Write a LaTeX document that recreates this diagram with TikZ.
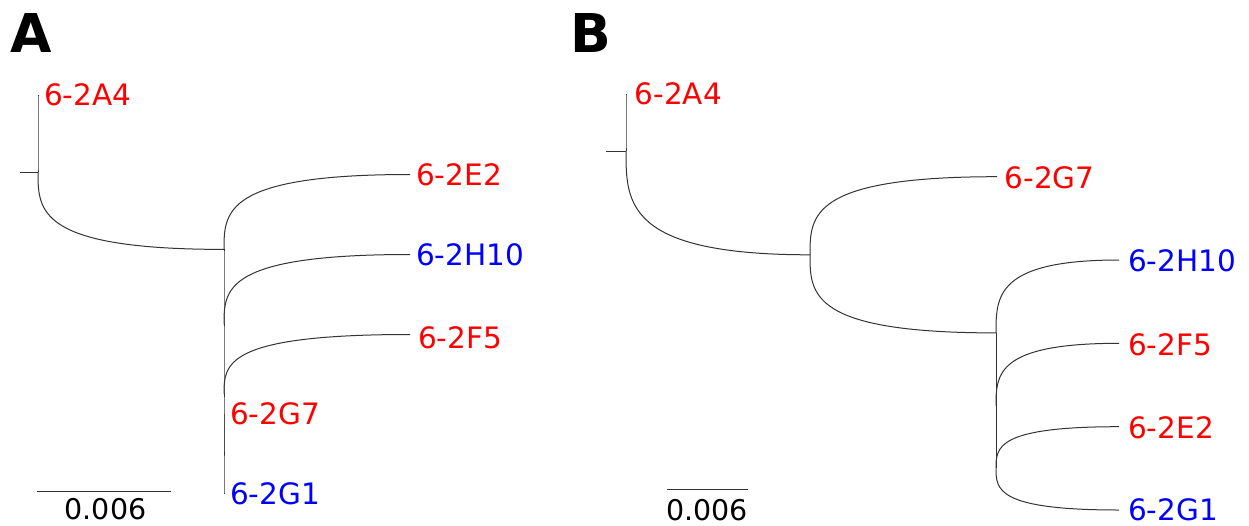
\documentclass[tikz,border=0pt]{standalone}
\usepackage{fontspec}
\setmainfont{DejaVu Sans}
\usetikzlibrary{calc}
\definecolor{tipred}{RGB}{255,0,0}
\definecolor{tipblue}{RGB}{0,0,255}
\newcommand\curvedbranch[2]{\draw[branch] (#1) .. controls ($(#1)!0.5!(#1|-#2)$) and (#1|-#2) .. (#2);}
\begin{document}
\begin{tikzpicture}[x=1pt,y=-1pt,
  branch/.style={line width=1pt, draw=black!80, line cap=butt},
  tiplabel/.style={anchor=west, inner sep=0pt, font=\fontsize{29.5}{30}\selectfont},
  redlab/.style={tiplabel, text=tipred},
  bluelab/.style={tiplabel, text=tipblue},
  panellab/.style={anchor=base west, inner sep=0pt, font=\fontsize{53.5}{54}\selectfont\bfseries},
  scalelab/.style={anchor=base, inner sep=0pt, font=\fontsize{28.5}{29}\selectfont}]
\useasboundingbox (0,0) rectangle (1249,525);
% panel letters
\node[panellab] (pA) at (10,52) {A};
\node[panellab] (pB) at (570.5,52) {B};
% ---------- Panel A ----------
\coordinate (sA) at (20,172.2);
\coordinate (rA) at (38,172.2);
\coordinate (tA4) at (38,95);
\coordinate (nA1) at (224,249.4);
\coordinate (tE2) at (410,174.5);
\coordinate (nA2) at (224,324.25);
\coordinate (tH10) at (410,254.5);
\coordinate (nA3) at (224,394);
\coordinate (tF5) at (410,334.5);
\coordinate (nA4) at (224,453.5);
\coordinate (tG7) at (224,413.5);
\coordinate (tG1) at (224,493.5);
\draw[branch] (sA) -- (rA);
\curvedbranch{rA}{tA4}
\curvedbranch{rA}{nA1}
\curvedbranch{nA1}{tE2}
\curvedbranch{nA1}{nA2}
\curvedbranch{nA2}{tH10}
\curvedbranch{nA2}{nA3}
\curvedbranch{nA3}{tF5}
\curvedbranch{nA3}{nA4}
\curvedbranch{nA4}{tG7}
\curvedbranch{nA4}{tG1}
\node[redlab]  (lA4) at ($(tA4)+(6,-0.5)$) {6-2A4};
\node[redlab]  (lE2) at ($(tE2)+(6,0.5)$) {6-2E2};
\node[bluelab] (lH10) at ($(tH10)+(6,0.5)$) {6-2H10};
\node[redlab]  (lF5) at ($(tF5)+(8,3.5)$) {6-2F5};
\node[redlab]  (lG7) at ($(tG7)+(6,0)$) {6-2G7};
\node[bluelab] (lG1) at ($(tG1)+(6,0)$) {6-2G1};
% scale bar A
\coordinate (scA1) at (36.7,491);
\coordinate (scA2) at (170.7,491);
\draw[branch] (scA1) -- (scA2);
\node[scalelab] (scAl) at (105.5,519.5) {0.006};
% ---------- Panel B ----------
\coordinate (sB) at (606,151);
\coordinate (rB) at (626,151);
\coordinate (bA4) at (626,94);
\coordinate (nB1) at (810,254.8);
\coordinate (bG7) at (997,176.7);
\coordinate (nB2) at (996,332.9);
\coordinate (bH10) at (1119,260);
\coordinate (nB3) at (996,405.8);
\coordinate (bF5) at (1119,343.3);
\coordinate (nB4) at (996,468.3);
\coordinate (bE2) at (1119,426.7);
\coordinate (bG1) at (1119,510);
\draw[branch] (sB) -- (rB);
\curvedbranch{rB}{bA4}
\curvedbranch{rB}{nB1}
\curvedbranch{nB1}{bG7}
\curvedbranch{nB1}{nB2}
\curvedbranch{nB2}{bH10}
\curvedbranch{nB2}{nB3}
\curvedbranch{nB3}{bF5}
\curvedbranch{nB3}{nB4}
\curvedbranch{nB4}{bE2}
\curvedbranch{nB4}{bG1}
\node[redlab]  (mA4) at ($(bA4)+(8.5,-0.5)$) {6-2A4};
\node[redlab]  (mG7) at ($(bG7)+(7.5,1.3)$) {6-2G7};
\node[bluelab] (mH10) at ($(bH10)+(9,0.3)$) {6-2H10};
\node[redlab]  (mF5) at ($(bF5)+(9,1.4)$) {6-2F5};
\node[redlab]  (mE2) at ($(bE2)+(9,1.3)$) {6-2E2};
\node[bluelab] (mG1) at ($(bG1)+(9,0)$) {6-2G1};
% scale bar B
\coordinate (scB1) at (667.3,489);
\coordinate (scB2) at (747.7,489);
\draw[branch] (scB1) -- (scB2);
\node[scalelab] (scBl) at (707,520) {0.006};
\end{tikzpicture}
\end{document}
